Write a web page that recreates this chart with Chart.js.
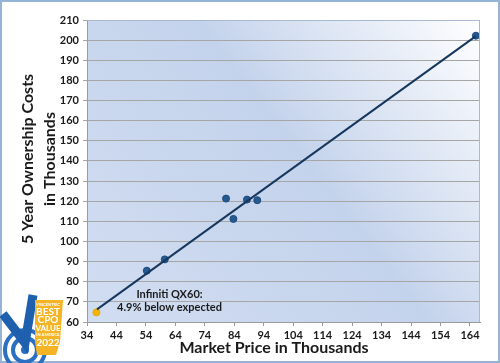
<!DOCTYPE html>
<html>
<head>
<meta charset="utf-8">
<script src="https://cdn.jsdelivr.net/npm/chart.js@4"></script>
<style>
  html, body { margin: 0; padding: 0; background: #fff; }
  #wrap { width: 500px; height: 363px; }
</style>
</head>
<body>
<div id="wrap"><canvas id="chart" width="500" height="363"></canvas></div>
<script>
// values (thousands of dollars)
const marketPrice = [54.3, 60.4, 81.2, 83.7, 88.3, 91.8, 166.0];
const ownershipCost = [85.5, 91.1, 121.3, 111.2, 120.8, 120.5, 202.2];
const highlightPrice = [37.2];
const highlightCost = [64.8];
const trendPrice = [37.4, 166.0];
const trendCost = [66.3, 202.0];
const xTicks = [34, 44, 54, 64, 74, 84, 94, 104, 114, 124, 134, 144, 154, 164];
const yTicks = [60, 70, 80, 90, 100, 110, 120, 130, 140, 150, 160, 170, 180, 190, 200, 210];
const xTitle = "Market Price in Thousands";
const yTitle = ["5 Year Ownership Costs", "in Thousands"];
const noteLines = ["Infiniti QX60:", "4.9% below expected"];

const toPoints = (xs, ys) => xs.map((x, i) => ({ x: x, y: ys[i] }));

// fond dégradé de la zone du graphique + cadre
const plotBackground = {
  id: "plotBackground",
  beforeDraw(chart) {
    const { ctx, chartArea: a } = chart;
    ctx.save();
    ctx.fillStyle = "#fff";
    ctx.fillRect(0, 0, chart.width, chart.height);
    const g = ctx.createLinearGradient(a.right, a.top, a.left, a.bottom);
    g.addColorStop(0, "#ffffff");
    g.addColorStop(0.45, "#c4d3ec");
    g.addColorStop(1, "#d1ddf1");
    ctx.fillStyle = g;
    ctx.fillRect(a.left, a.top, a.right - a.left, a.bottom - a.top);
    ctx.restore();
  },
  afterDraw(chart) {
    const { ctx, chartArea: a } = chart;
    ctx.save();
    ctx.strokeStyle = "#a9b9cf";
    ctx.lineWidth = 1;
    ctx.beginPath();
    ctx.moveTo(a.left, a.top + 0.5);
    ctx.lineTo(a.right - 0.5, a.top + 0.5);
    ctx.lineTo(a.right - 0.5, a.bottom);
    ctx.stroke();
    // outer frame
    ctx.strokeStyle = "#95b3d7";
    ctx.lineWidth = 2;
    ctx.strokeRect(1, 1, chart.width - 2, chart.height - 2);
    ctx.restore();
  },
};

// titres des axes, placés comme dans l'original
const axisTitles = {
  id: "axisTitles",
  afterDraw(chart) {
    const ctx = chart.ctx;
    ctx.save();
    ctx.fillStyle = "#1a1a1a";
    ctx.font = "bold 16px Lato";
    ctx.textAlign = "center";
    ctx.textBaseline = "middle";
    ctx.fillText(xTitle, 274, 348);
    ctx.translate(0, 159);
    ctx.rotate(-Math.PI / 2);
    ctx.fillText(yTitle[0], 0, 28);
    ctx.fillText(yTitle[1], 0, 50);
    ctx.restore();
  },
};

// texte de l'annotation
const noteLabel = {
  id: "noteLabel",
  afterDatasetsDraw(chart) {
    const { ctx, scales } = chart;
    const x = scales.x.getPixelForValue(62);
    const y = scales.y.getPixelForValue(73.5);
    ctx.save();
    ctx.font = "bold 11px Lato";
    ctx.fillStyle = "#1a1a1a";
    ctx.textAlign = "center";
    ctx.textBaseline = "middle";
    noteLines.forEach((t, i) => ctx.fillText(t, x, y + i * 12.5));
    ctx.restore();
  },
};

// badge en bas à gauche
const badge = {
  id: "badge",
  afterDraw(chart) {
    const ctx = chart.ctx;
    ctx.save();
    ctx.strokeStyle = "#2a6fc0";
    ctx.fillStyle = "#2a6fc0";
    ctx.lineWidth = 4;
    [20, 12].forEach((r) => {
      ctx.beginPath();
      ctx.arc(25, 350, r, 0, Math.PI * 2);
      ctx.stroke();
    });
    ctx.beginPath();
    ctx.arc(25, 350, 4, 0, Math.PI * 2);
    ctx.fill();
    ctx.strokeStyle = "#1e5fae";
    ctx.lineWidth = 9;
    ctx.lineCap = "butt";
    ctx.beginPath();
    ctx.moveTo(3, 314);
    ctx.lineTo(25, 343);
    ctx.lineTo(33, 295);
    ctx.stroke();
    ctx.fillStyle = "#f4b425";
    ctx.beginPath();
    ctx.moveTo(35, 300);
    ctx.lineTo(63, 300);
    ctx.lineTo(60, 342);
    ctx.lineTo(56, 355);
    ctx.lineTo(37, 355);
    ctx.lineTo(35, 342);
    ctx.closePath();
    ctx.fill();
    ctx.fillStyle = "#ffffff";
    ctx.textAlign = "center";
    ctx.textBaseline = "alphabetic";
    ctx.font = "bold 4px Lato";
    ctx.fillText("VINCENTRIC", 48, 306);
    ctx.font = "bold 10px Lato";
    ctx.fillText("BEST", 48, 315);
    ctx.fillText("CPO", 48, 323);
    ctx.font = "bold 8px Lato";
    ctx.fillText("VALUE", 48, 331);
    ctx.font = "bold 4px Lato";
    ctx.fillText("IN AMERICA", 48, 336);
    ctx.font = "bold 10px Lato";
    ctx.fillText("2022", 48, 346);
    ctx.restore();
  },
};

const tickFont = { family: "Lato", size: 11, weight: "bold" };

new Chart(document.getElementById("chart"), {
  type: "scatter",
  data: {
    datasets: [
      {
        label: "Trend",
        type: "line",
        data: toPoints(trendPrice, trendCost),
        borderColor: "#17375e",
        borderWidth: 2,
        pointRadius: 0,
        fill: false,
      },
      {
        label: "Vehicles",
        data: toPoints(marketPrice, ownershipCost),
        backgroundColor: "#245a91",
        borderColor: "#1c4a7a",
        borderWidth: 1,
        pointRadius: 3.5,
      },
      {
        label: "Infiniti QX60",
        data: toPoints(highlightPrice, highlightCost),
        backgroundColor: "#f7b500",
        borderColor: "#e9a800",
        borderWidth: 1,
        pointRadius: 3.5,
      },
    ],
  },
  options: {
    responsive: false,
    animation: false,
    layout: { padding: { left: 4, top: 20, right: 20, bottom: 0 } },
    plugins: {
      legend: { display: false },
      tooltip: { enabled: false },
    },
    scales: {
      x: {
        type: "linear",
        min: 34,
        max: 167.4,
        afterBuildTicks: (scale) => {
          scale.ticks = xTicks.map((v) => ({ value: v }));
        },
        afterFit: (scale) => {
          scale.height = 41;
        },
        grid: { drawOnChartArea: false, color: "#9a9a9a", tickLength: 4 },
        border: { color: "#9a9a9a" },
        ticks: { font: tickFont, color: "#1a1a1a", padding: 3, maxRotation: 0, autoSkip: false },
        title: { display: false },
      },
      y: {
        min: 60,
        max: 210,
        afterBuildTicks: (scale) => {
          scale.ticks = yTicks.map((v) => ({ value: v }));
        },
        afterFit: (scale) => {
          scale.width = 83;
        },
        grid: { color: "#a6a6a6", tickLength: 4 },
        border: { color: "#9a9a9a" },
        ticks: { font: tickFont, color: "#1a1a1a", padding: 4 },
        title: { display: false },
      },
    },
  },
  plugins: [plotBackground, axisTitles, noteLabel, badge],
});
</script>
</body>
</html>
